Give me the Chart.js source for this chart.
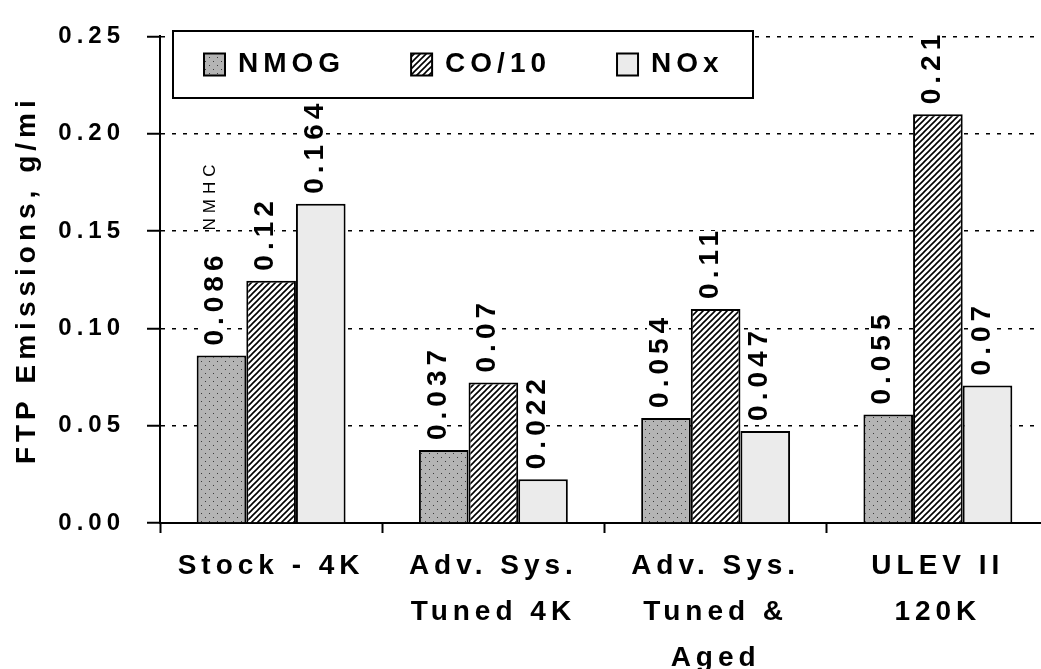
<!DOCTYPE html>
<html>
<head>
<meta charset="utf-8">
<script src="https://cdn.jsdelivr.net/npm/chart.js@4.4.0/dist/chart.umd.min.js"></script>
<style>
  html, body { margin: 0; padding: 0; background: #fff; overflow: hidden; }
  #wrap { width: 1041px; height: 669px; overflow: hidden; }
</style>
</head>
<body>
<div id="wrap"><canvas id="chart" width="1049" height="669"></canvas></div>
<script>
// 数据
const categories = [['Stock - 4K'], ['Adv. Sys.', 'Tuned 4K'], ['Adv. Sys.', 'Tuned &', 'Aged'], ['ULEV II', '120K']];
const seriesNames = ['NMOG', 'CO/10', 'NOx'];
const nmog = [0.086, 0.0375, 0.054, 0.0557];
const co10 = [0.1245, 0.0722, 0.110, 0.210];
const nox = [0.164, 0.0225, 0.0473, 0.0707];
const nmogLabels = ['0.086', '0.037', '0.054', '0.055'];
const co10Labels = ['0.12', '0.07', '0.11', '0.21'];
const noxLabels = ['0.164', '0.022', '0.047', '0.07'];
const yTicks = [0, 0.05, 0.10, 0.15, 0.20, 0.25];
const noteText = 'NMHC';
const yTitle = 'FTP Emissions, g/mi';

const FAMILY = '"Liberation Sans", Arial, sans-serif';

// 填充图案
function makePattern(size, draw) {
  const c = document.createElement('canvas');
  c.width = size;
  c.height = size;
  const g = c.getContext('2d');
  draw(g, size);
  return document.getElementById('chart').getContext('2d').createPattern(c, 'repeat');
}

const dotFill = makePattern(8, (g, s) => {
  g.fillStyle = '#b4b4b4';
  g.fillRect(0, 0, s, s);
  g.fillStyle = '#3a3a3a';
  g.fillRect(1, 1, 1, 1);
  g.fillRect(5, 5, 1, 1);
});

const hatchFill = makePattern(6, (g, s) => {
  g.fillStyle = '#fff';
  g.fillRect(0, 0, s, s);
  g.strokeStyle = '#000';
  g.lineWidth = 1.6;
  g.beginPath();
  g.moveTo(-1, s + 1); g.lineTo(s + 1, -1);
  g.moveTo(-1, 1); g.lineTo(1, -1);
  g.moveTo(s - 1, s + 1); g.lineTo(s + 1, s - 1);
  g.stroke();
});

const noxFill = '#ebebeb';

// 字间距
const spacingPlugin = {
  id: 'spacing',
  beforeDraw(chart) {
    chart.ctx.letterSpacing = '5px';
  }
};

// 柱顶数值标签（竖排）
const labelPlugin = {
  id: 'barLabels',
  afterDatasetsDraw(chart) {
    const ctx = chart.ctx;
    ctx.save();
    ctx.letterSpacing = '5px';
    ctx.font = 'bold 28px ' + FAMILY;
    let firstTop = null;
    let firstX = null;
    chart.data.datasets.forEach((ds, i) => {
      const meta = chart.getDatasetMeta(i);
      meta.data.forEach((bar, j) => {
        const text = ds.valueLabels[j];
        const w = ctx.measureText(text).width;
        ctx.save();
        ctx.translate(bar.x + 2, bar.y - 10);
        ctx.rotate(-Math.PI / 2);
        ctx.fillStyle = '#fff';
        ctx.fillRect(-1, -21, w - 4, 22);
        ctx.fillStyle = '#000';
        ctx.textAlign = 'left';
        ctx.textBaseline = 'alphabetic';
        ctx.fillText(text, 0, 0);
        ctx.restore();
        if (i === 0 && j === 0) {
          firstTop = bar.y - 10 - w;
          firstX = bar.x;
        }
      });
    });
    // NMHC 注释
    ctx.font = '17px ' + FAMILY;
    ctx.letterSpacing = '5px';
    ctx.fillStyle = '#000';
    ctx.translate(firstX - 6, firstTop - 20);
    ctx.rotate(-Math.PI / 2);
    ctx.textAlign = 'left';
    ctx.textBaseline = 'alphabetic';
    ctx.fillText(noteText, 0, 0);
    ctx.restore();
  }
};

// 图例框
const legendPlugin = {
  id: 'boxLegend',
  afterDraw(chart) {
    const ctx = chart.ctx;
    const box = { left: 173, top: 31, right: 753, bottom: 98 };
    ctx.save();
    ctx.fillStyle = '#fff';
    ctx.fillRect(box.left, box.top, box.right - box.left, box.bottom - box.top);
    ctx.lineWidth = 2;
    ctx.strokeStyle = '#000';
    ctx.strokeRect(box.left, box.top, box.right - box.left, box.bottom - box.top);
    ctx.font = 'bold 28px ' + FAMILY;
    ctx.letterSpacing = '5px';
    ctx.textBaseline = 'middle';
    ctx.textAlign = 'left';
    const cy = (box.top + box.bottom) / 2;
    let x = box.left + 31;
    chart.data.datasets.forEach(ds => {
      ctx.fillStyle = ds.backgroundColor;
      ctx.fillRect(x, cy - 11, 21, 22);
      ctx.lineWidth = 2;
      ctx.strokeRect(x, cy - 11, 21, 22);
      ctx.fillStyle = '#000';
      ctx.fillText(ds.label, x + 34, cy);
      x += 34 + ctx.measureText(ds.label).width + 66;
    });
    ctx.restore();
  }
};

const ctx = document.getElementById('chart').getContext('2d');
new Chart(ctx, {
  type: 'bar',
  data: {
    labels: categories,
    datasets: [
      { label: seriesNames[0], data: nmog, valueLabels: nmogLabels, backgroundColor: dotFill },
      { label: seriesNames[1], data: co10, valueLabels: co10Labels, backgroundColor: hatchFill },
      { label: seriesNames[2], data: nox, valueLabels: noxLabels, backgroundColor: noxFill }
    ].map(d => Object.assign(d, {
      borderColor: '#000',
      borderWidth: 2,
      borderSkipped: 'start',
      barPercentage: 1,
      categoryPercentage: 0.67
    }))
  },
  options: {
    responsive: false,
    devicePixelRatio: 1,
    animation: false,
    events: [],
    layout: { padding: { top: 25, left: 0, right: 0, bottom: 0 } },
    plugins: {
      legend: { display: false },
      tooltip: { enabled: false }
    },
    scales: {
      x: {
        grid: {
          display: true,
          drawOnChartArea: false,
          drawTicks: true,
          tickLength: 10,
          tickWidth: 2,
          tickColor: '#000'
        },
        border: { display: true, color: '#000', width: 2 },
        ticks: {
          color: '#000',
          autoSkip: false,
          maxRotation: 0,
          minRotation: 0,
          padding: 10,
          font: { family: FAMILY, size: 28, weight: 'bold', lineHeight: 1.64 }
        },
        afterFit(scale) { scale.height = 146; }
      },
      y: {
        min: 0,
        max: 0.25,
        afterBuildTicks(scale) {
          scale.ticks = yTicks.map(v => ({ value: v }));
        },
        grid: {
          color: '#000',
          lineWidth: 1.5,
          drawTicks: true,
          tickLength: 13,
          tickWidth: 2,
          tickColor: '#000',
          tickBorderDash: []
        },
        border: { display: true, color: '#000', width: 2, dash: [4, 7] },
        ticks: {
          color: '#000',
          padding: 22,
          font: { family: FAMILY, size: 24, weight: 'bold' },
          callback: v => Number(v).toFixed(2)
        },
        title: {
          display: true,
          text: yTitle,
          color: '#000',
          padding: { top: 10, bottom: 0 },
          font: { family: FAMILY, size: 28, weight: 'bold' }
        },
        afterFit(scale) { scale.width = 160; }
      }
    }
  },
  plugins: [spacingPlugin, labelPlugin, legendPlugin]
});
</script>
</body>
</html>
